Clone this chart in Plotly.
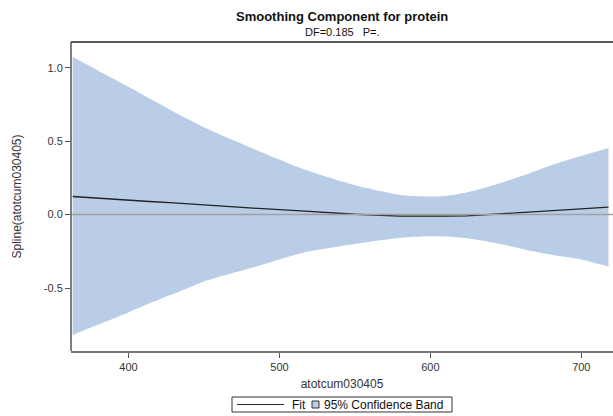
import plotly.graph_objects as go

# ---- data ----
x_vals = [363, 380, 400, 414, 430, 451, 480, 517, 550, 580, 590, 600, 610, 624, 637, 653, 668, 681, 697, 718]
upper = [1.073, 0.980, 0.870, 0.790, 0.700, 0.589, 0.460, 0.305, 0.200, 0.134, 0.126, 0.123, 0.127, 0.150, 0.186, 0.237, 0.290, 0.339, 0.390, 0.453]
lower = [-0.820, -0.749, -0.666, -0.604, -0.540, -0.452, -0.368, -0.256, -0.200, -0.158, -0.151, -0.147, -0.149, -0.161, -0.182, -0.215, -0.250, -0.275, -0.300, -0.354]
fit = [0.123, 0.110, 0.097, 0.089, 0.080, 0.065, 0.045, 0.024, 0.002, -0.010, -0.011, -0.012, -0.011, -0.009, 0.000, 0.008, 0.018, 0.027, 0.037, 0.050]

x_ticks = [400, 500, 600, 700]
y_ticks = [-0.5, 0.0, 0.5, 1.0]
y_ticklabels = ["-0.5", "0.0", "0.5", "1.0"]

title = "Smoothing Component for protein"
subtitle = "DF=0.185   P=."
x_title = "atotcum030405"
y_title = "Spline(atotcum030405)"
legend_labels = ["Fit", "95% Confidence Band"]

# ---- layout geometry ----
W, H = 613, 416
L, R, T, B = 71, 0, 42, 65
PW, PH = W - L - R, H - T - B

def px(xp):
    return (xp - L) / PW

def py(yp):
    return (H - B - yp) / PH

FONT = "Liberation Sans, Arial, sans-serif"
BAND = "rgb(185,206,230)"
TXT = "#333333"

fig = go.Figure()
fig.add_trace(go.Scatter(x=x_vals, y=lower, mode="lines", line=dict(width=0, color=BAND, shape="spline", smoothing=0.6),
                         showlegend=False, hoverinfo="skip"))
fig.add_trace(go.Scatter(x=x_vals, y=upper, mode="lines", line=dict(width=0, color=BAND, shape="spline", smoothing=0.6),
                         fill="tonexty", fillcolor=BAND, showlegend=False, hoverinfo="skip"))
fig.add_trace(go.Scatter(x=x_vals, y=fit, mode="lines", line=dict(width=1.3, color="#222222"),
                         showlegend=False))

shapes = [
    # zero reference line
    dict(type="line", xref="paper", yref="y", x0=0, x1=1, y0=0, y1=0,
         line=dict(color="#a0a0a0", width=1.5), layer="above"),
    # frame: top and left
    dict(type="line", xref="paper", yref="paper", x0=0, x1=1.01, y0=1, y1=1,
         line=dict(color="#222222", width=1.5)),
    dict(type="line", xref="paper", yref="paper", x0=0, x1=0, y0=0, y1=1,
         line=dict(color="#555555", width=1.5)),
    # legend box
    dict(type="rect", xref="paper", yref="paper", x0=px(232), x1=px(452), y0=py(397), y1=py(412),
         line=dict(color="#333333", width=1), fillcolor="white"),
    # legend line sample
    dict(type="line", xref="paper", yref="paper", x0=px(237), x1=px(284), y0=py(404.5), y1=py(404.5),
         line=dict(color="#2a2a2a", width=1)),
    # legend band sample
    dict(type="rect", xref="paper", yref="paper", x0=px(312), x1=px(319), y0=py(401), y1=py(408),
         line=dict(color="#333333", width=1), fillcolor=BAND),
]

annotations = [
    dict(text="<b>" + title + "</b>", xref="paper", yref="paper", x=px(342), y=py(17), showarrow=False,
         font=dict(family=FONT, size=13, color="#111111"), xanchor="center", yanchor="middle"),
    dict(text=subtitle, xref="paper", yref="paper", x=px(342), y=py(31.5), showarrow=False,
         font=dict(family=FONT, size=11, color="#111111"), xanchor="center", yanchor="middle"),
    dict(text=legend_labels[0], xref="paper", yref="paper", x=px(290), y=py(404.5), showarrow=False,
         font=dict(family=FONT, size=12, color="#111111"), xanchor="left", yanchor="middle"),
    dict(text=legend_labels[1], xref="paper", yref="paper", x=px(322), y=py(404.5), showarrow=False,
         font=dict(family=FONT, size=12, color="#111111"), xanchor="left", yanchor="middle"),
]

fig.update_layout(
    width=W, height=H,
    margin=dict(l=L, r=R, t=T, b=B, autoexpand=False),
    paper_bgcolor="white", plot_bgcolor="white",
    showlegend=False,
    font=dict(family=FONT, color=TXT),
    shapes=shapes, annotations=annotations,
    xaxis=dict(range=[361.9, 721.0], tickvals=x_ticks, ticks="outside", ticklen=5, tickcolor="#555555",
               showgrid=False, zeroline=False, showline=True, linecolor="#777777", linewidth=1.5,
               tickfont=dict(family=FONT, size=11, color=TXT),
               title=dict(text=x_title, font=dict(family=FONT, size=12, color=TXT), standoff=8)),
    yaxis=dict(range=[-0.929, 1.175], tickvals=y_ticks, ticktext=y_ticklabels, ticks="outside", ticklen=5,
               tickcolor="#555555", showgrid=False, zeroline=False, showline=False,
               tickfont=dict(family=FONT, size=11, color=TXT),
               title=dict(text=y_title, font=dict(family=FONT, size=12, color=TXT), standoff=19)),
)

fig.write_html("out.html", config={"displayModeBar": False},
               post_script="document.body.style.margin='0';document.body.style.overflow='hidden';")
